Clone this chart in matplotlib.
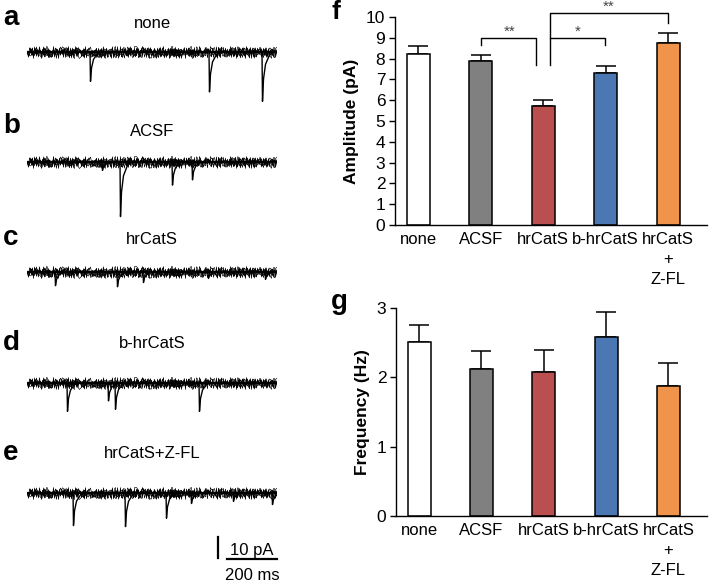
import numpy as np
import matplotlib
matplotlib.use("Agg")
import matplotlib.pyplot as plt

plt.rcParams['font.family'] = ['Liberation Sans', 'DejaVu Sans']

W, H = 711, 584

# ---------------- data ----------------
groups = ['none', 'ACSF', 'hrCatS', 'b-hrCatS', 'hrCatS\n+\nZ-FL']
bar_colors = ['white', '#808080', '#B94F4E', '#4B78B2', '#EF944A']

amp_mean = [8.24, 7.90, 5.70, 7.29, 8.77]
amp_sem = [0.36, 0.26, 0.33, 0.35, 0.44]

freq_mean = [2.51, 2.12, 2.07, 2.58, 1.88]
freq_sem = [0.25, 0.26, 0.33, 0.36, 0.33]

trace_names = ['none', 'ACSF', 'hrCatS', 'b-hrCatS', 'hrCatS+Z-FL']
# events per trace: (time in ms, amplitude in pA)
event_times = [
    [252, 728, 940],
    [300, 372, 580, 660],
    [112, 360, 464, 724, 952],
    [160, 324, 352, 688],
    [184, 392, 556, 656, 824, 980],
]
event_amps = [
    [14.0, 19.0, 23.5],
    [4.0, 26.0, 11.0, 8.5],
    [6.5, 7.0, 5.0, 3.0, 3.5],
    [13.5, 8.5, 12.5, 13.5],
    [15.5, 16.0, 12.0, 5.0, 4.0, 5.5],
]

fig = plt.figure(figsize=(W / 100, H / 100), dpi=100)


def px_axes(x0, y_top, x1, y_bot):
    return fig.add_axes([x0 / W, 1 - y_bot / H, (x1 - x0) / W, (y_bot - y_top) / H])


# ---------------- traces a-e ----------------
baselines_px = [52, 162, 272, 383, 493]
label_px = [23, 132, 239, 344, 454]
letters_px = [25, 133, 245, 350, 460]
px_per_pA = 2.1
y_lo, y_hi = -36, 8

# shape of one synaptic event (ms offset, fraction of peak)
shape_dt = [0, 2, 6, 14, 30, 45]
shape_fr = [0, 1, 0.55, 0.25, 0.06, 0]
# layers of sketch style that give the baseline its noisy look
noise_layers = [(0.8, 6.0), (1.1, 5.0), (1.6, 4.5), (2.3, 3.5), (0.6, 2.5)]

for i, name in enumerate(trace_names):
    b = baselines_px[i]
    ax = px_axes(27, b - y_hi * px_per_pA, 277, b - y_lo * px_per_pA)
    ax.set_xlim(0, 1000)
    ax.set_ylim(y_lo, y_hi)
    ax.axis('off')
    for length, scale in noise_layers:
        ln, = ax.plot([0, 1000], [0, 0], color='black', lw=0.45)
        ln.set_sketch_params(scale=scale, length=length, randomness=3)
    ax.plot([0, 1000], [0, 0], color='black', lw=1.6)
    for et, ea in zip(event_times[i], event_amps[i]):
        ax.plot([et + dt for dt in shape_dt], [-ea * fr for fr in shape_fr],
                color='black', lw=1.0)
    fig.text(152 / W, 1 - label_px[i] / H, name, ha='center', va='center', fontsize=12)
    fig.text(3 / W, 1 - letters_px[i] / H, 'abcde'[i], ha='left', va='baseline',
             fontsize=20, fontweight='bold')
    if i == 4:
        # scale bar
        ax.plot([764, 764], [-21, -31], color='black', lw=1.6, clip_on=False)
        ax.plot([800, 1000], [-31.5, -31.5], color='black', lw=1.6, clip_on=False)
        ax.text(900, -27.5, '10 pA', ha='center', va='center', fontsize=12)
        ax.text(900, -39.5, '200 ms', ha='center', va='center', fontsize=12, clip_on=False)

# ---------------- bar panels ----------------
x = np.arange(len(groups))


def bar_panel(ax, mean, sem, ymax, yticks, ylabel):
    ax.bar(x, mean, width=0.37, color=bar_colors, edgecolor='black', linewidth=1.1, zorder=2)
    ax.errorbar(x, mean, yerr=[np.zeros(len(sem)), sem], fmt='none', ecolor='black',
                elinewidth=1.1, capsize=7, capthick=1.1, zorder=1)
    ax.set_xlim(-0.37, 4.62)
    ax.set_ylim(0, ymax)
    ax.set_yticks(yticks)
    ax.set_xticks(x)
    ax.set_xticklabels(groups, fontsize=12, linespacing=1.4)
    ax.tick_params(axis='x', length=0, pad=5)
    ax.tick_params(axis='y', length=4, width=1, labelsize=12.5, pad=3)
    for s in ['top', 'right']:
        ax.spines[s].set_visible(False)
    ax.spines['left'].set_linewidth(1)
    ax.spines['bottom'].set_linewidth(1)
    ax.set_ylabel(ylabel, fontsize=12.5, fontweight='bold', labelpad=5)


axf = px_axes(395, 17, 707, 225)
bar_panel(axf, amp_mean, amp_sem, 10, range(0, 11), 'Amplitude (pA)')

# significance brackets
bk = dict(color='black', lw=1, clip_on=False)
axf.plot([1, 1, 1.88, 1.88], [8.65, 9.0, 9.0, 7.7], **bk)
axf.plot([2.11, 2.11, 4.0, 4.0], [7.7, 10.2, 10.2, 9.73], **bk)
axf.plot([2.11, 2.99, 2.99], [9.0, 9.0, 8.65], **bk)
star = dict(ha='center', va='bottom', fontsize=11, color='#444444')
axf.text(1.46, 8.95, '**', **star)
axf.text(2.56, 8.95, '*', **star)
axf.text(3.04, 10.15, '**', **star)

axg = px_axes(396, 308, 707, 516)
bar_panel(axg, freq_mean, freq_sem, 3, [0, 1, 2, 3], 'Frequency (Hz)')

fig.text(331 / W, 1 - 19 / H, 'f', ha='left', va='baseline', fontsize=19, fontweight='bold')
fig.text(331 / W, 1 - 309 / H, 'g', ha='left', va='baseline', fontsize=20, fontweight='bold')

fig.savefig('out.png', dpi=100)
